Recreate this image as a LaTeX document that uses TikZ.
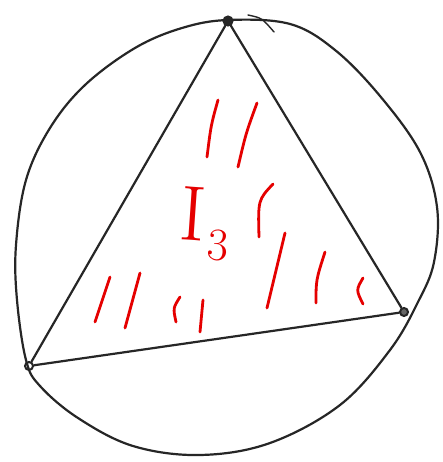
\documentclass[tikz,border=0pt]{standalone}
\begin{document}
\begin{tikzpicture}[x=1pt,y=-1pt,
  ink/.style={draw=black!85, line width=2.2pt, line cap=round, line join=round},
  hatch/.style={draw=red!90!black, line width=2.8pt, line cap=round},
  vtx/.style={circle, draw=black!85, line width=2pt, inner sep=0pt, minimum size=8pt}]
\useasboundingbox (0,0) rectangle (443,462);
\fill[white] (0,0) rectangle (443,462);
% outer closed curve
\draw[ink] plot[smooth cycle, tension=0.6] coordinates {
  (228,20) (290,24) (335,50) (380,96) (420,152) (437,207) (434,262) (418,302)
  (390,350) (340,405) (270,443) (200,455) (133,446) (78,418) (40,386) (26,360)
  (17,300) (16,245) (26,180) (50,128) (85,85) (135,48) (182,28)};
\draw[ink, line width=1.4pt] (248,15) .. controls (262,18) .. (274,32);
% vertices
\node[vtx, fill=black!85, minimum size=9pt] (t) at (228,21) {};
\node[vtx, fill=black!60, minimum size=8pt] (r) at (404,312) {};
\node[vtx, minimum size=8pt] (l) at (29,366) {};
% triangle
\draw[ink] (t) -- (r);
\draw[ink] (r) -- (l);
\draw[ink] (l) -- (t);
% hatching
\draw[hatch] (218,100) .. controls (211,125) .. (207,157);
\draw[hatch] (257,103) .. controls (246,133) .. (238,167);
\draw[hatch] (273,184) .. controls (258,200) .. (259,237);
\draw[hatch] (285,233) -- (267,308);
\draw[hatch] (325,252) .. controls (316,280) .. (316,303);
\draw[hatch] (363,278) .. controls (356,290) .. (363,304);
\draw[hatch] (110,277) -- (95,322);
\draw[hatch] (140,273) .. controls (133,300) .. (125,328);
\draw[hatch] (180,297) .. controls (173,308) .. (176,322);
\draw[hatch] (203,300) -- (200,332);
% label
\node[text=red!90!black, inner sep=0pt, rotate=-4] (lab) at (205,224)
  {\fontsize{78}{80}\selectfont I\kern3pt\raisebox{-0.22em}{\fontsize{46}{48}\selectfont 3}};
\end{tikzpicture}
\end{document}
